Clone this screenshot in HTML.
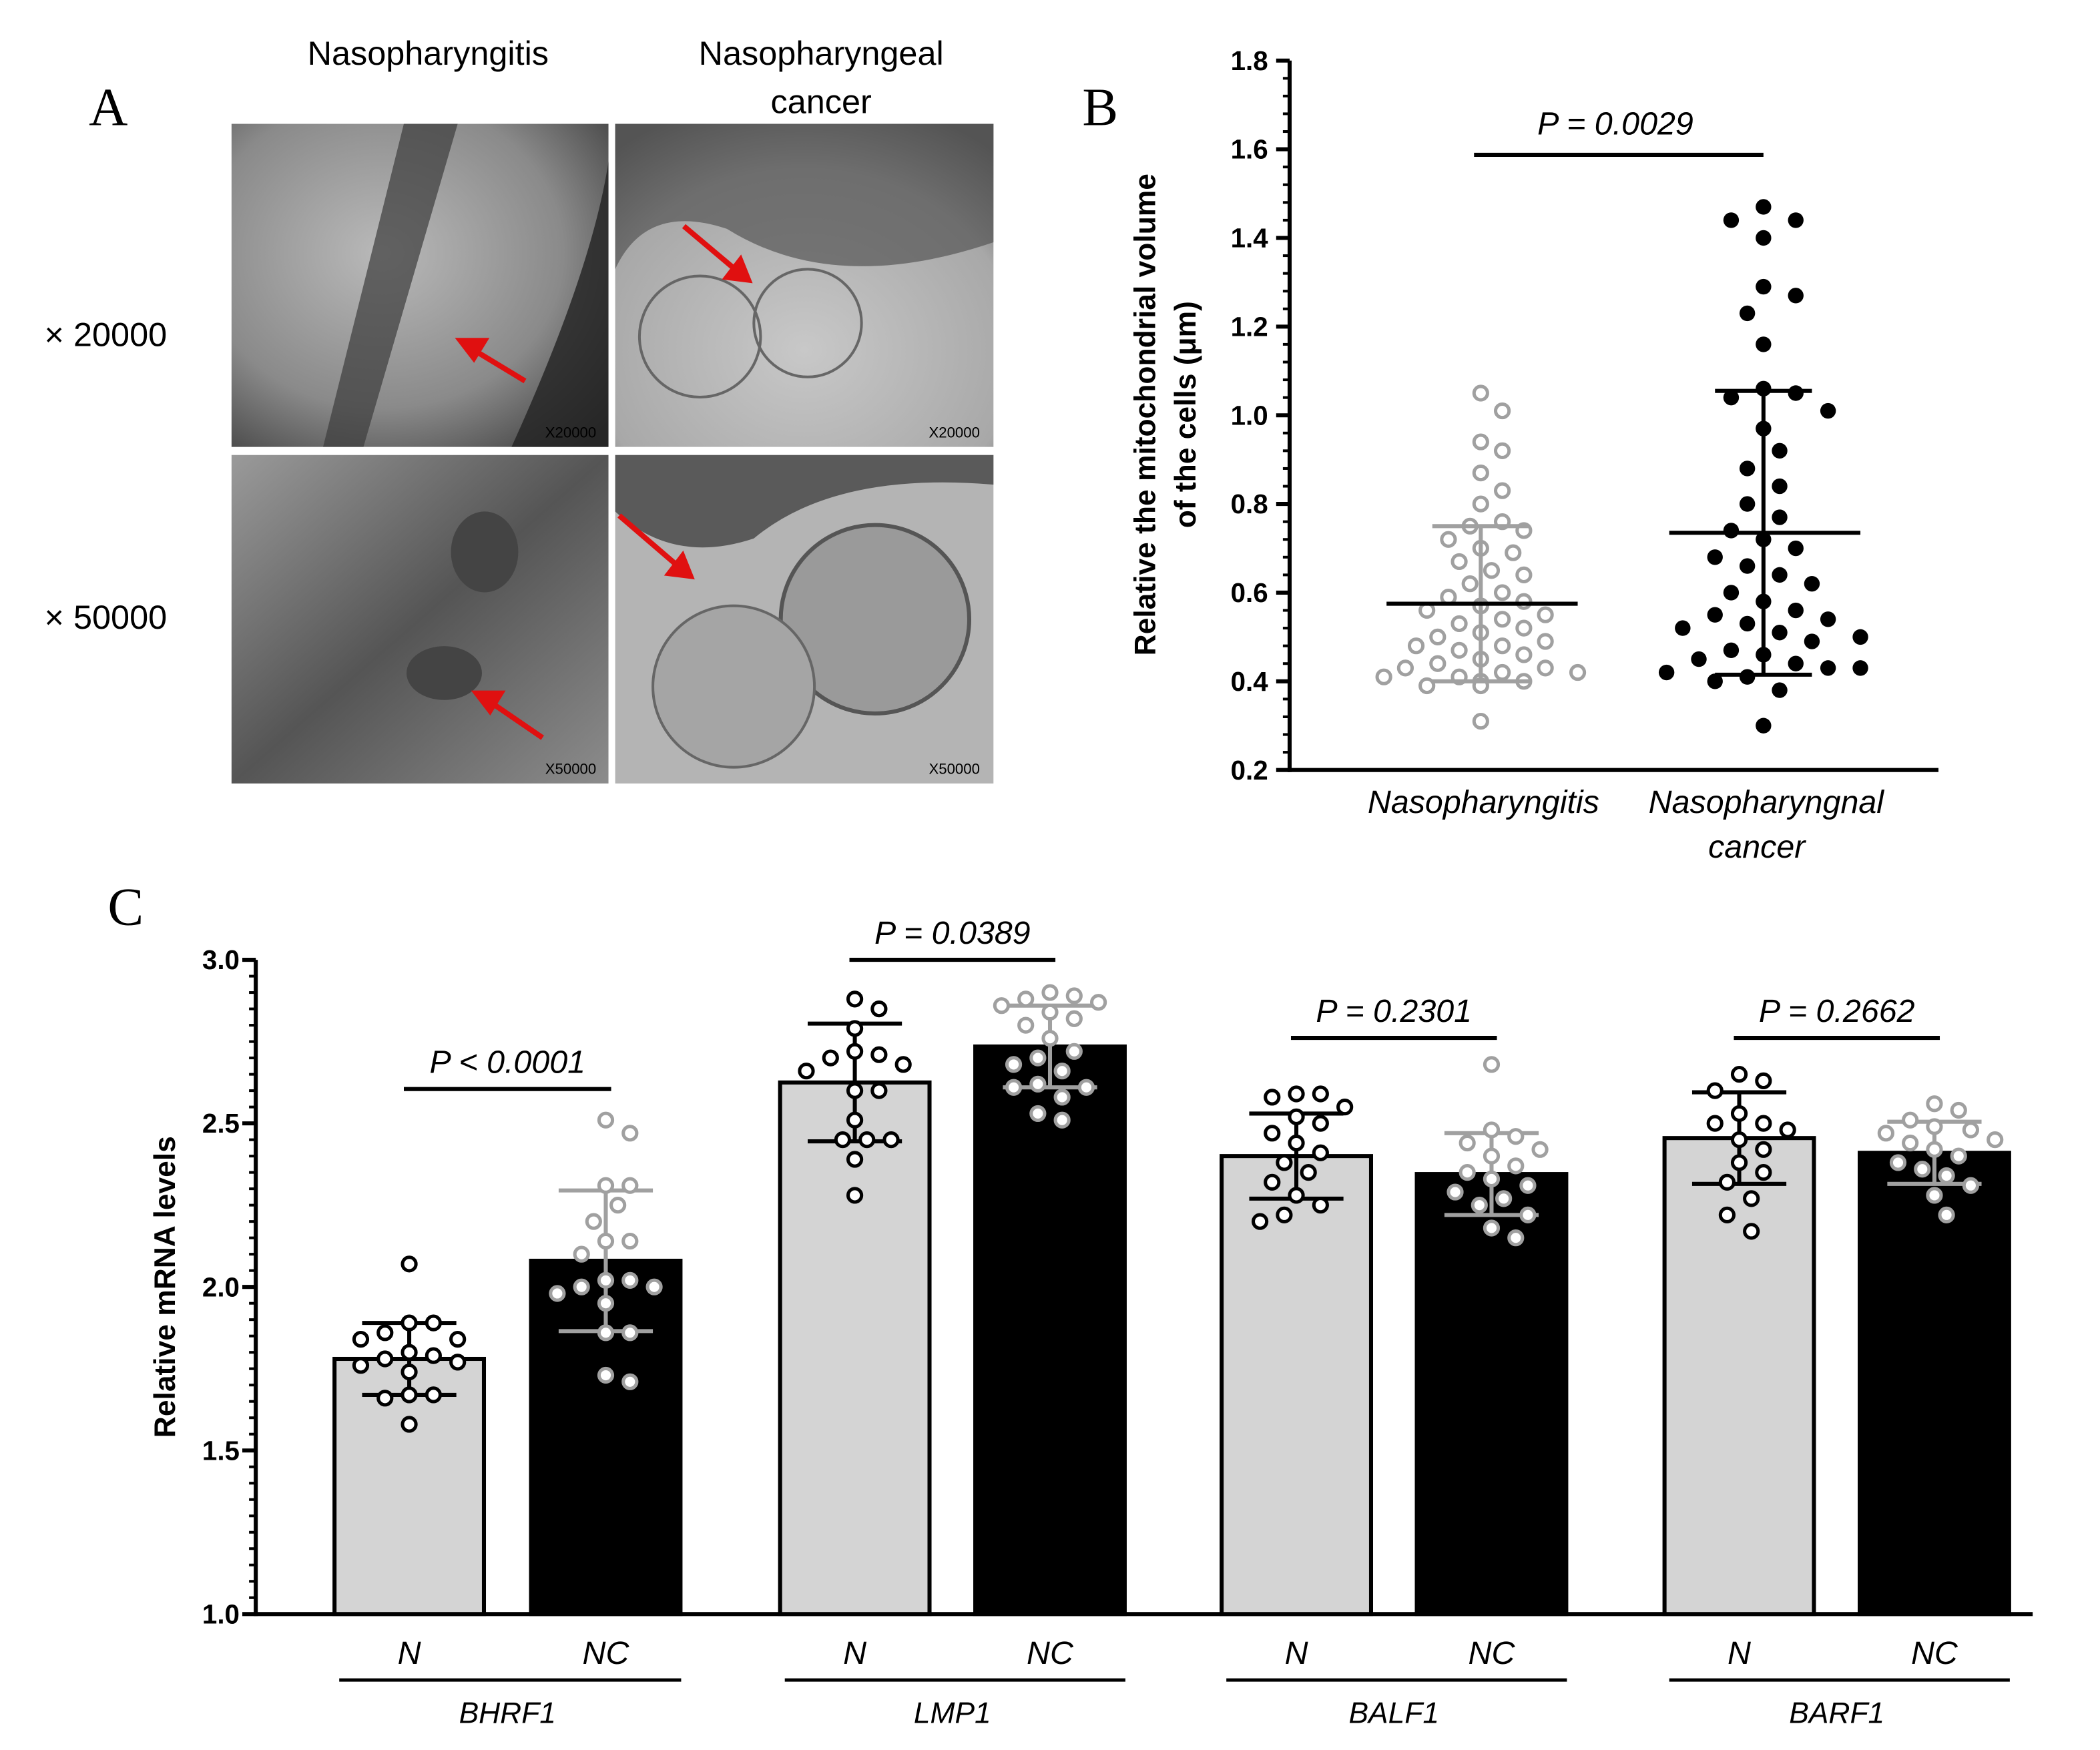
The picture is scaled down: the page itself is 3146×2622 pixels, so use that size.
<!DOCTYPE html>
<html><head><meta charset="utf-8">
<style>
html,body{margin:0;padding:0;background:#fff;}
svg{display:block;font-family:"Liberation Sans",sans-serif;}
</style></head>
<body>
<svg id="fig" width="3146" height="2622" viewBox="0 0 1560 1300" preserveAspectRatio="none" xmlns="http://www.w3.org/2000/svg">
<defs>
<radialGradient id="g1" cx="0.4" cy="0.4" r="0.8"><stop offset="0" stop-color="#b9b9b9"/><stop offset="0.6" stop-color="#8a8a8a"/><stop offset="1" stop-color="#3a3a3a"/></radialGradient>
<radialGradient id="g2" cx="0.5" cy="0.7" r="0.8"><stop offset="0" stop-color="#c8c8c8"/><stop offset="0.7" stop-color="#a8a8a8"/><stop offset="1" stop-color="#505050"/></radialGradient>
<linearGradient id="g3" x1="0" y1="0" x2="1" y2="1"><stop offset="0" stop-color="#9a9a9a"/><stop offset="0.5" stop-color="#555"/><stop offset="1" stop-color="#8c8c8c"/></linearGradient>
</defs>
<g>
<text x="66" y="93" font-family="Liberation Serif" font-size="40">A</text>
<text x="318" y="48" font-size="25" text-anchor="middle">Nasopharyngitis</text>
<text x="610" y="48" font-size="25" text-anchor="middle">Nasopharyngeal</text>
<text x="610" y="84" font-size="25" text-anchor="middle">cancer</text>
<text x="33" y="257" font-size="25">× 20000</text>
<text x="33" y="467" font-size="25">× 50000</text>
<rect x="172" y="92" width="280" height="240" fill="url(#g1)"/>
<path d="M240 332 L300 92 L340 92 L270 332Z" fill="#3c3c3c" opacity="0.7"/>
<path d="M380 332 Q440 200 452 120 L452 332Z" fill="#222" opacity="0.8"/>
<rect x="457" y="92" width="281" height="240" fill="url(#g2)"/>
<path d="M457 92 L738 92 L738 180 Q620 220 540 170 Q480 150 457 200Z" fill="#555" opacity="0.7"/>
<circle cx="520" cy="250" r="45" fill="none" stroke="#666" stroke-width="2"/><circle cx="600" cy="240" r="40" fill="none" stroke="#666" stroke-width="2"/>
<rect x="172" y="338" width="280" height="244" fill="url(#g3)"/>
<ellipse cx="330" cy="500" rx="28" ry="20" fill="#444"/><ellipse cx="360" cy="410" rx="25" ry="30" fill="#444"/>
<rect x="457" y="338" width="281" height="244" fill="#b4b4b4"/>
<path d="M457 338 L738 338 L738 360 Q620 350 560 400 Q500 420 457 380Z" fill="#444" opacity="0.8"/>
<circle cx="650" cy="460" r="70" fill="#9a9a9a" stroke="#555" stroke-width="3"/>
<ellipse cx="545" cy="510" rx="60" ry="60" fill="#a5a5a5" stroke="#666" stroke-width="2"/>
<g stroke="#e01010" stroke-width="4" fill="#e01010">
<line x1="390" y1="283" x2="352" y2="260"/><polygon points="342,253 360,253 352,266"/>
<line x1="508" y1="168" x2="546" y2="200"/><polygon points="556,208 540,206 550,193"/>
<line x1="403" y1="548" x2="365" y2="522"/><polygon points="354,515 372,515 364,528"/>
<line x1="460" y1="383" x2="503" y2="420"/><polygon points="513,428 497,426 507,413"/>
</g>
<g font-size="11"><text x="405" y="325">X20000</text><text x="690" y="325">X20000</text><text x="405" y="575">X50000</text><text x="690" y="575">X50000</text></g>
</g>
<g id="panelB">
<text x="804" y="93" font-family="Liberation Serif" font-size="40">B</text>
</g>
<g id="panelC">
<text x="80" y="687" font-family="Liberation Serif" font-size="40">C</text>
</g>
</svg>
<script>
// ---- Panel B data ----
const bGroups = ["Nasopharyngitis", "Nasopharyngnal cancer"];
const bGray = [1.05,1.01,0.94,0.92,0.87,0.83,0.80,0.76,0.75,0.74,0.72,0.70,0.69,0.67,0.65,0.64,0.62,0.60,0.59,0.58,0.57,0.56,0.55,0.54,0.53,0.52,0.51,0.50,0.49,0.48,0.48,0.47,0.46,0.45,0.44,0.43,0.43,0.42,0.42,0.41,0.41,0.40,0.40,0.40,0.39,0.39,0.31];
const bBlack = [1.47,1.44,1.44,1.40,1.29,1.27,1.23,1.16,1.06,1.05,1.04,1.01,0.97,0.92,0.88,0.84,0.80,0.77,0.74,0.72,0.70,0.68,0.66,0.64,0.62,0.60,0.58,0.56,0.55,0.54,0.53,0.52,0.51,0.50,0.49,0.47,0.46,0.45,0.44,0.43,0.43,0.42,0.41,0.40,0.38,0.30];
const bMeans = [0.575, 0.735];
const bSdLow = [0.40, 0.415];
const bSdHigh = [0.75, 1.055];
const bTicks = [0.2,0.4,0.6,0.8,1.0,1.2,1.4,1.6,1.8];
const bPText = "P = 0.0029";
// ---- Panel C data ----
const cGenes = ["BHRF1","LMP1","BALF1","BARF1"];
const cGroupLabels = ["N","NC"];
const cMeansN = [1.78, 2.625, 2.40, 2.455];
const cMeansNC = [2.08, 2.735, 2.345, 2.41];
const cSdN = [0.11, 0.18, 0.13, 0.14];
const cSdNC = [0.215, 0.125, 0.125, 0.095];
const cPTexts = ["P < 0.0001","P = 0.0389","P = 0.2301","P = 0.2662"];
const cPointsN = [
 [2.07,1.89,1.89,1.86,1.84,1.84,1.80,1.79,1.78,1.77,1.76,1.74,1.67,1.67,1.66,1.58],
 [2.88,2.85,2.79,2.72,2.71,2.70,2.68,2.66,2.60,2.60,2.51,2.45,2.45,2.45,2.39,2.28],
 [2.59,2.59,2.58,2.55,2.52,2.50,2.47,2.44,2.41,2.38,2.35,2.32,2.28,2.25,2.22,2.20],
 [2.65,2.63,2.60,2.53,2.50,2.50,2.48,2.45,2.42,2.38,2.35,2.32,2.27,2.22,2.17]
];
const cPointsNC = [
 [2.51,2.47,2.31,2.31,2.25,2.20,2.14,2.14,2.10,2.02,2.02,2.00,2.00,1.98,1.95,1.86,1.86,1.73,1.71],
 [2.90,2.89,2.88,2.87,2.86,2.84,2.82,2.80,2.76,2.72,2.70,2.68,2.66,2.62,2.61,2.61,2.58,2.53,2.51],
 [2.68,2.48,2.46,2.44,2.42,2.40,2.37,2.35,2.33,2.31,2.29,2.27,2.25,2.22,2.18,2.15],
 [2.56,2.54,2.51,2.49,2.48,2.47,2.45,2.44,2.42,2.40,2.38,2.36,2.34,2.31,2.28,2.22]
];
const cTicks = [1.0,1.5,2.0,2.5,3.0];

const NS="http://www.w3.org/2000/svg";
function mk(parent, tag, attrs){const e=document.createElementNS(NS,tag);for(const k in attrs)e.setAttribute(k,attrs[k]);parent.appendChild(e);return e;}
function swarm(vals, cx, yf, sep, step, maxw){
  const placed=[];const out=[];
  const sorted=vals.map((v,i)=>({v,i})).sort((a,b)=>b.v-a.v);
  for(const p of sorted){const y=yf(p.v);let x=cx;
    for(let k=0;k<80;k++){const off=Math.ceil(k/2)*step*(k%2?1:-1);const tx=cx+off;
      if(Math.abs(off)>maxw){x=cx;break;}
      if(placed.every(q=>Math.hypot(q[0]-tx,q[1]-y)>=sep)){x=tx;break;}}
    placed.push([x,y]);out.push([x,y]);}
  return out;
}
// ---- Panel B ----
const B=document.getElementById('panelB');
const bY0=572,bY1=45,bX0=958,bX1=1440;
const yB=v=>bY0-(v-0.2)/(1.8-0.2)*(bY0-bY1);
const bCx=[1100,1310];
let ax=mk(B,'line',{x1:bX0,y1:bY1,x2:bX0,y2:bY0+1.5,stroke:'#000','stroke-width':3});


ax=mk(B,'line',{x1:bX0-1.5,y1:bY0,x2:bX1,y2:bY0,stroke:'#000','stroke-width':3});


for(let v=0.2;v<=1.8001;v+=0.04){const y=yB(v);mk(B,'line',{x1:bX0-5,y1:y,x2:bX0,y2:y,stroke:'#000','stroke-width':2});}
bTicks.forEach(t=>{const y=yB(t);mk(B,'line',{x1:bX0-10,y1:y,x2:bX0,y2:y,stroke:'#000','stroke-width':3});
 const tx=mk(B,'text',{x:bX0-16,y:y+7,'font-size':20,'font-weight':'bold','text-anchor':'end'});tx.textContent=t.toFixed(1);
 
 });
let yt=mk(B,'text',{transform:'translate(858,308) rotate(-90)','font-size':22,'font-weight':'bold','text-anchor':'middle'});
yt.textContent='Relative the mitochondrial volume';


yt=mk(B,'text',{transform:'translate(888,308) rotate(-90)','font-size':22,'font-weight':'bold','text-anchor':'middle'});
yt.textContent='of the cells (\u03bcm)';


let xl=mk(B,'text',{x:1102,y:604,'font-size':24,'font-style':'italic','text-anchor':'middle'});xl.textContent=bGroups[0];


xl=mk(B,'text',{x:1312,y:604,'font-size':24,'font-style':'italic','text-anchor':'middle'});xl.textContent=bGroups[1].split(' ')[0];


xl=mk(B,'text',{x:1305,y:637,'font-size':24,'font-style':'italic','text-anchor':'middle'});xl.textContent=bGroups[1].split(' ')[1];


let pb=mk(B,'line',{x1:1095,y1:115,x2:1310,y2:115,stroke:'#000','stroke-width':3});


let pt=mk(B,'text',{x:1200,y:100,'font-size':24,'font-style':'italic','text-anchor':'middle'});pt.textContent=bPText;


swarm(bGray,bCx[0],yB,17,8,80).forEach(p=>{const c=mk(B,'circle',{cx:p[0],cy:p[1],r:5,fill:'#fff',stroke:'#a0a0a0','stroke-width':2.5});
 
 });
swarm(bBlack,bCx[1],yB,20,12,90).forEach(p=>{const c=mk(B,'circle',{cx:p[0],cy:p[1],r:5.8,fill:'#000'});
 
 });
[0,1].forEach(i=>{const col=i?'#000':'#a0a0a0';const cx=bCx[i];
 let l=mk(B,'line',{x1:cx,y1:yB(bSdLow[i]),x2:cx,y2:yB(bSdHigh[i]),stroke:col,'stroke-width':3});
 
 
 [bSdLow[i],bSdHigh[i]].forEach(v=>{const c=mk(B,'line',{x1:cx-36,y1:yB(v),x2:cx+36,y2:yB(v),stroke:col,'stroke-width':3});
  
  });
 const m=mk(B,'line',{x1:cx-70,y1:yB(bMeans[i]),x2:cx+72,y2:yB(bMeans[i]),stroke:'#000','stroke-width':3});
 
 });
// ---- Panel C ----
const C=document.getElementById('panelC');
const cY0=1199,cY1=713,cX0=190,cX1=1510;
const yC=v=>cY0-(v-1.0)/(3.0-1.0)*(cY0-cY1);
const nCenters=[304,635,963,1292], ncCenters=[450,780,1108,1437], bw=111;
ax=mk(C,'line',{x1:cX0,y1:cY1,x2:cX0,y2:cY0+1.5,stroke:'#000','stroke-width':3});


ax=mk(C,'line',{x1:cX0-1.5,y1:cY0,x2:cX1,y2:cY0,stroke:'#000','stroke-width':3});


for(let v=1.0;v<=3.0001;v+=0.05){const y=yC(v);mk(C,'line',{x1:cX0-5,y1:y,x2:cX0,y2:y,stroke:'#000','stroke-width':2});}
cTicks.forEach(t=>{const y=yC(t);mk(C,'line',{x1:cX0-10,y1:y,x2:cX0,y2:y,stroke:'#000','stroke-width':3});
 const tx=mk(C,'text',{x:cX0-12,y:y+7,'font-size':20,'font-weight':'bold','text-anchor':'end'});tx.textContent=t.toFixed(1);
 
 });
yt=mk(C,'text',{transform:'translate(130,956) rotate(-90)','font-size':22,'font-weight':'bold','text-anchor':'middle'});
yt.textContent='Relative mRNA levels';


cGenes.forEach((g,i)=>{
 const groups=[[nCenters[i],cMeansN[i],cSdN[i],cPointsN[i],'#d4d4d4','#000'],[ncCenters[i],cMeansNC[i],cSdNC[i],cPointsNC[i],'#000','#a0a0a0']];
 groups.forEach((G,j)=>{const [cx,m,sd,pts,fill,pc]=G;
  const r=mk(C,'rect',{x:cx-bw/2,y:yC(m),width:bw,height:cY0-yC(m),fill:fill,stroke:'#000','stroke-width':3});
  
  
  const ecol=j?'#a0a0a0':'#000';
  const e=mk(C,'line',{x1:cx,y1:yC(m-sd),x2:cx,y2:yC(m+sd),stroke:ecol,'stroke-width':3});
  
  
  [m-sd,m+sd].forEach(v=>{const c=mk(C,'line',{x1:cx-35,y1:yC(v),x2:cx+35,y2:yC(v),stroke:ecol,'stroke-width':3});
   
   });
  swarm(pts,cx,yC,17,9,52).forEach(p=>{const c=mk(C,'circle',{cx:p[0],cy:p[1],r:5,fill:'#fff',stroke:pc,'stroke-width':2.5});
   
   });
  const lt=mk(C,'text',{x:cx,y:1236,'font-size':24,'font-style':'italic','text-anchor':'middle'});lt.textContent=cGroupLabels[j];
  
  
 });
 const barY=[809,713,771,771][i];
 const sb=mk(C,'line',{x1:nCenters[i]-4,y1:barY,x2:ncCenters[i]+4,y2:barY,stroke:'#000','stroke-width':3});
 
 
 const ptx=mk(C,'text',{x:(nCenters[i]+ncCenters[i])/2,y:barY-12,'font-size':24,'font-style':'italic','text-anchor':'middle'});ptx.textContent=cPTexts[i];
 
 
 const ul=mk(C,'line',{x1:nCenters[i]-52,y1:1248,x2:ncCenters[i]+56,y2:1248,stroke:'#000','stroke-width':2.5});
 
 
 const gl=mk(C,'text',{x:(nCenters[i]+ncCenters[i])/2,y:1280,'font-size':22,'font-style':'italic','text-anchor':'middle'});gl.textContent=g;
 
 
});
</script>
</body></html>
